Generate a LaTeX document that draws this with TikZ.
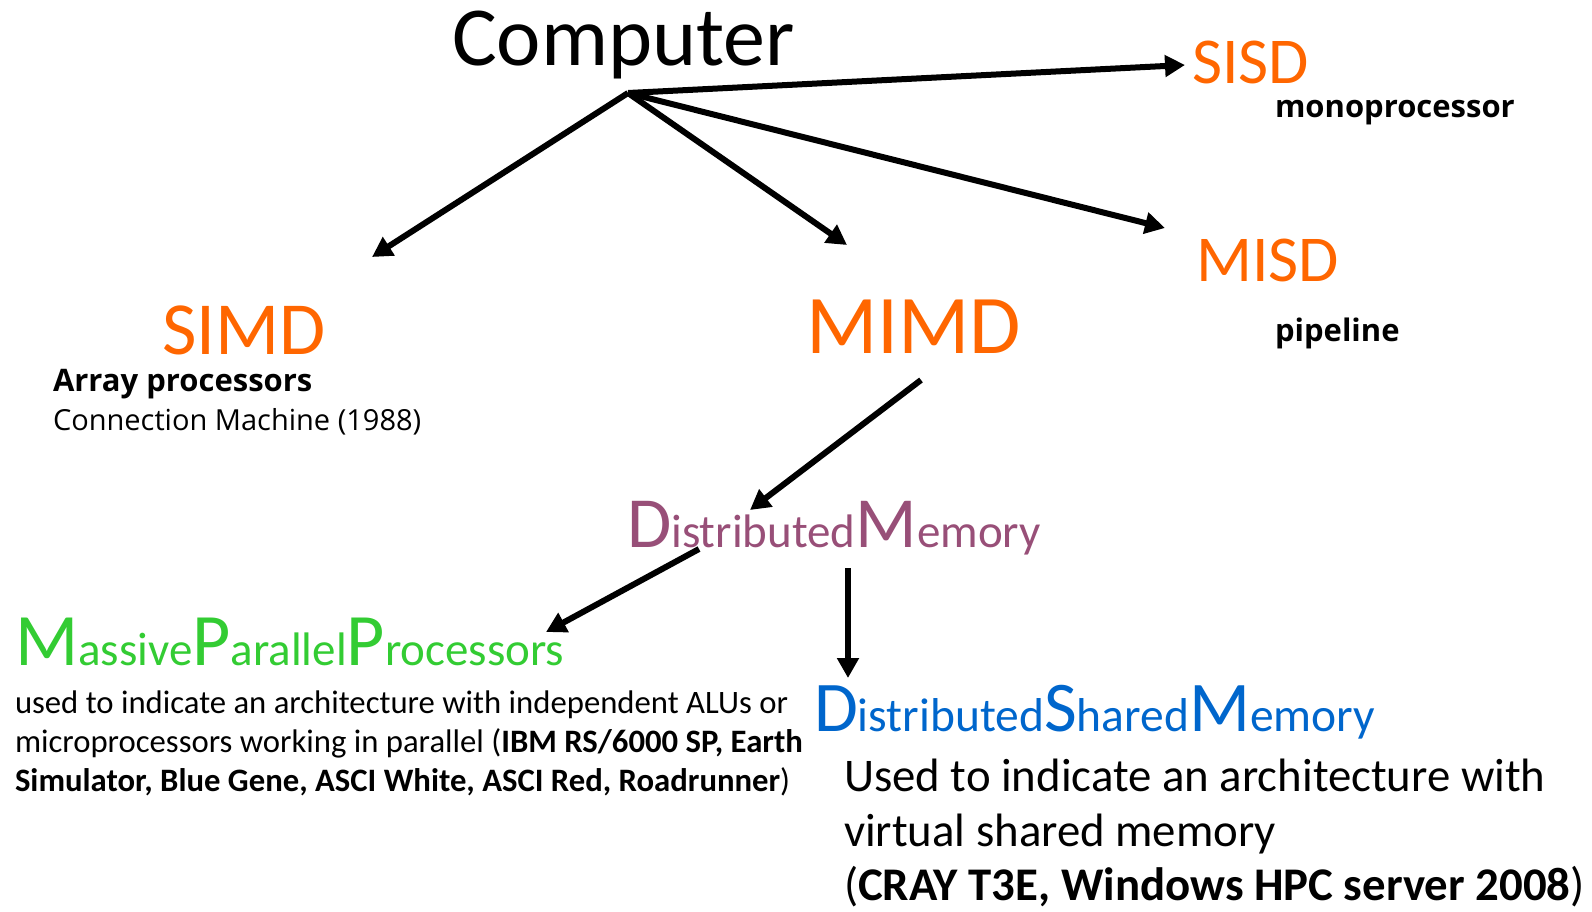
\documentclass[tikz,border=0pt]{standalone}
\usepackage{fontspec}
\setmainfont{Carlito}
\newfontfamily\notefont{Open Sans}
\usetikzlibrary{arrows.meta}

\definecolor{flynnorange}{RGB}{255,102,0}
\definecolor{dmpurple}{RGB}{152,79,120}
\definecolor{mppgreen}{RGB}{51,204,51}
\definecolor{dsmblue}{RGB}{0,102,204}

\newcommand\fs[1]{\fontsize{#1}{#1}\selectfont}

\tikzset{
  txt/.style={inner sep=0pt, outer sep=0pt, anchor=base west},
  flynn/.style={txt, text=flynnorange},
  note/.style={txt, font=\notefont\fs{29}},
  notebold/.style={txt, font=\notefont\bfseries\fs{31}},
  link/.style={line width=6pt, -{Triangle[length=20pt,width=21pt]}},
}

\begin{document}
\begin{tikzpicture}[x=1pt,y=-1pt]
\useasboundingbox (0,0) rectangle (1592,911);

% category labels
\node[txt, font=\fs{84}] (comp) at (452,65) {Computer};
\node[flynn, font=\fs{65.5}] (sisd) at (1192,83) {SISD};
\node[notebold] (mono) at (1275,117) {monoprocessor};
\node[flynn, font=\fs{65.5}] (misd) at (1196,281) {MISD};
\node[notebold] (pipe) at (1275,341) {pipeline};
\node[flynn, font=\fs{75}] (simd) at (162,354) {SIMD};
\node[notebold] (arr) at (53,391) {Array processors};
\node[note] (conn) at (53,430) {Connection Machine (1988)};
\node[flynn, font=\fs{83.5}] (mimd) at (806,353) {MIMD};

% distributed memory
\node[txt, text=dmpurple] (dm) at (627,547)
  {\fs{72}D\fs{47}istributed\fs{72}M\fs{47}emory};

% massive parallel processors
\node[txt, text=mppgreen] (mpp) at (15,665)
  {\fs{74}M\fs{47}assive\fs{74}P\fs{47}arallel\fs{74}P\fs{47}rocessors};
\node[txt, font=\fs{32.7}] (mppa) at (15,713)
  {used to indicate an architecture with independent ALUs or};
\node[txt, font=\fs{32.7}] (mppb) at (15,752)
  {microprocessors working in parallel (\textbf{IBM RS/6000 SP, Earth}};
\node[txt, font=\fs{32.7}] (mppc) at (15,791)
  {\textbf{Simulator, Blue Gene, ASCI White, ASCI Red, Roadrunner})};

% distributed shared memory
\node[txt, text=dsmblue] (dsm) at (814,731)
  {\fs{71.3}D\fs{47.5}istributed\fs{71.3}S\fs{47.5}hared\fs{71.3}M\fs{47.5}emory};
\node[txt, font=\fs{46.8}] (dsma) at (844,791) {Used to indicate an architecture with};
\node[txt, font=\fs{46.8}] (dsmb) at (844,846) {virtual shared memory};
\node[txt, font=\fs{46.8}] (dsmc) at (844,900) {(\textbf{CRAY T3E, Windows HPC server 2008})};

% connector end points
\coordinate (hub) at (628,93);
\coordinate (toSisd) at (1185,65);
\coordinate (toMisd) at (1165,228);
\coordinate (toMimd) at (847,245);
\coordinate (toSimd) at (372,257);
\coordinate (fromMimd) at (921,380);
\coordinate (toDm) at (750,510);
\coordinate (fromDmL) at (699,549);
\coordinate (toMpp) at (546,632);
\coordinate (fromDmR) at (848,568);
\coordinate (toDsm) at (848,678);

\draw[link] (hub) -- (toSisd);
\draw[link] (hub) -- (toMisd);
\draw[link] (hub) -- (toMimd);
\draw[link] (hub) -- (toSimd);
\draw[link] (fromMimd) -- (toDm);
\draw[link] (fromDmL) -- (toMpp);
\draw[link] (fromDmR) -- (toDsm);
\end{tikzpicture}
\end{document}
